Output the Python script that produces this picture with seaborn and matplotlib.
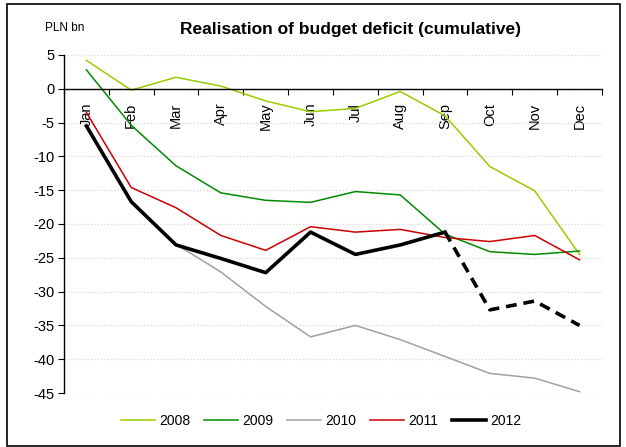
import numpy as np
import pandas as pd
import seaborn as sns
import matplotlib.pyplot as plt
from matplotlib.patches import Rectangle

# dados (PLN bn, acumulado)
months = ['Jan', 'Feb', 'Mar', 'Apr', 'May', 'Jun', 'Jul', 'Aug', 'Sep', 'Oct', 'Nov', 'Dec']
y2008 = [4.2, -0.2, 1.7, 0.4, -1.8, -3.4, -2.9, -0.4, -4.0, -11.5, -15.1, -24.5]
y2009 = [2.8, -5.4, -11.4, -15.4, -16.5, -16.8, -15.2, -15.7, -21.5, -24.1, -24.5, -24.0]
y2010 = [-5.4, -16.7, -23.0, -27.1, -32.2, -36.7, -35.0, -37.1, -39.6, -42.1, -42.8, -44.8]
y2011 = [-3.5, -14.6, -17.6, -21.7, -23.9, -20.4, -21.2, -20.8, -22.0, -22.6, -21.7, -25.3]
y2012 = [-5.5, -16.7, -23.1, -25.1, -27.2, -21.2, -24.5, -23.1, -21.2, -32.7, -31.4, -35.0]
last_actual = 8  # set/2012 -> depois disso é projeção (tracejado)

years = ['2008', '2009', '2010', '2011', '2012']
cores = {'2008': '#99CC00', '2009': '#008A00', '2010': '#A0A0A0', '2011': '#CC0000', '2012': '#000000'}

frames = []
for yr, vals in zip(years, [y2008, y2009, y2010, y2011, y2012]):
    n = len(vals) if yr != '2012' else last_actual + 1
    frames.append(pd.DataFrame({'m': np.arange(n), 'val': vals[:n], 'year': yr}))
df = pd.concat(frames, ignore_index=True)
df_proj = pd.DataFrame({'m': np.arange(last_actual, 12), 'val': y2012[last_actual:]})

plt.rcParams['font.family'] = ['Liberation Sans', 'DejaVu Sans']
plt.rcParams['axes.unicode_minus'] = False
fig = plt.figure(figsize=(6.26, 4.47), dpi=100)
ax = fig.add_axes([0.1022, 0.1208, 0.8594, 0.7562])

# linhas finas primeiro, 2012 grossa por cima
sns.lineplot(data=df[df['year'] != '2012'], x='m', y='val', hue='year', palette=cores,
             linewidth=1.1, ax=ax, legend=False)
sns.lineplot(data=df[df['year'] == '2012'], x='m', y='val', color='black',
             linewidth=2.6, ax=ax, legend=False)
sns.lineplot(data=df_proj, x='m', y='val', color='black', linewidth=2.6,
             linestyle=(0, (3, 1.9)), ax=ax, legend=False)

ax.set_xlim(-0.5, 11.5)
ax.set_ylim(-45, 5)
ax.set_yticks(np.arange(-45, 6, 5))
ax.set_xticks(np.arange(12))
ax.set_xticks(np.arange(-0.5, 12, 1), minor=True)
ax.set_xticklabels(months)
ax.tick_params(axis='x', which='major', length=0, pad=10, labelsize=10.5, labelrotation=90)
ax.tick_params(axis='x', which='minor', length=4, direction='out', width=0.8)
ax.tick_params(axis='y', length=4, width=0.8, labelsize=10.5, pad=3)
for t in ax.get_xticklabels():
    t.set_va('top')
ax.set_xlabel('')
ax.set_ylabel('')

ax.spines['top'].set_visible(False)
ax.spines['right'].set_visible(False)
ax.spines['bottom'].set_position(('data', 0))
ax.spines['bottom'].set_linewidth(1.0)
ax.spines['left'].set_linewidth(1.0)
ax.yaxis.grid(True, color='#D8D8D8', linestyle=':', linewidth=0.9)
ax.set_axisbelow(True)

fig.text(0.56, 0.935, 'Realisation of budget deficit (cumulative)', ha='center', va='center',
         fontsize=12.5, fontweight='bold')
fig.text(0.072, 0.937, 'PLN bn', ha='left', va='center', fontsize=8.5)

# legenda embaixo
handles = [plt.Line2D([], [], color=cores[y], lw=2.6 if y == '2012' else 1.1) for y in years]
fig.legend(handles, years, loc='center', bbox_to_anchor=(0.513, 0.058), ncol=5, frameon=False,
           fontsize=10, handlelength=2.45, handletextpad=0.3, columnspacing=1.0)

# moldura em volta da figura
fig.patches.append(Rectangle((0.011, 0.003), 0.979, 0.988, transform=fig.transFigure,
                             fill=False, edgecolor='black', linewidth=1.2))

fig.savefig('out.png', dpi=100)
